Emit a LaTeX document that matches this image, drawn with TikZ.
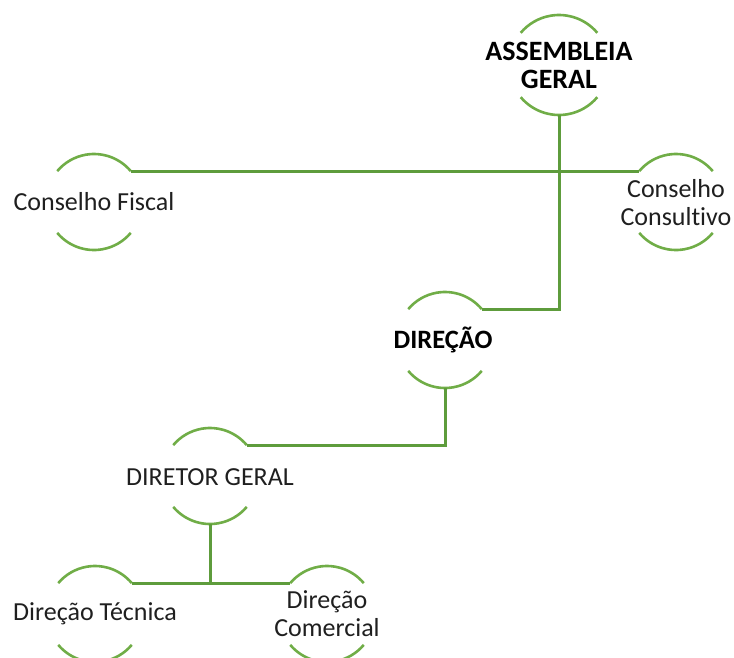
\documentclass[tikz,border=0pt]{standalone}
\usepackage{fontspec}
\setmainfont[Ligatures=NoCommon]{Carlito}
\definecolor{ringgreen}{HTML}{70AD47}
\definecolor{linkgreen}{HTML}{5E9C3C}
\tikzset{
  ring/.style={draw=ringgreen, line width=2.6pt},
  link/.style={draw=linkgreen, line width=3pt},
  lbl/.style={inner sep=0pt, align=center, font=\fontsize{26}{28}\selectfont, text=black!88},
  blbl/.style={inner sep=0pt, align=center, text=black},
}
\newcommand\ringarcs[2]{%
  \draw[ring] ([shift={(40:#2)}]#1) arc[start angle=40,end angle=140,radius=#2];
  \draw[ring] ([shift={(-140:#2)}]#1) arc[start angle=-140,end angle=-40,radius=#2];}
\begin{document}
\begin{tikzpicture}[x=1pt,y=-1pt]
\useasboundingbox (0,0) rectangle (734,657);
% ring centres
\coordinate (cag) at (559,65);
\coordinate (ccf) at (94,202);
\coordinate (ccc) at (676,202);
\coordinate (cdir) at (445,340);
\coordinate (cdg) at (210,476);
\coordinate (cdt) at (95,614);
\coordinate (cdc) at (327,614);
% arcs
\ringarcs{cag}{50pt}
\ringarcs{ccf}{48pt}
\ringarcs{ccc}{48pt}
\ringarcs{cdir}{48pt}
\ringarcs{cdg}{48pt}
\ringarcs{cdt}{48pt}
\ringarcs{cdc}{48pt}
% arc end points used by connectors
\coordinate (agb) at ([shift={(0,-50pt)}]cag);
\coordinate (cfr) at ([shift={(40:48pt)}]ccf);
\coordinate (ccl) at ([shift={(140:48pt)}]ccc);
\coordinate (dirr) at ([shift={(40:48pt)}]cdir);
\coordinate (dirb) at ([shift={(0,-48pt)}]cdir);
\coordinate (dgr) at ([shift={(40:48pt)}]cdg);
\coordinate (dgb) at ([shift={(0,-48pt)}]cdg);
\coordinate (dtr) at ([shift={(40:48pt)}]cdt);
\coordinate (dcl) at ([shift={(140:48pt)}]cdc);
% labels
\node[blbl, font=\fontsize{28}{28}\selectfont\bfseries] (ag) at (559,65) {ASSEMBLEIA\\GERAL};
\node[lbl] (cf) at (94,202) {Conselho Fiscal};
\node[lbl] (cc) at (676,203) {Conselho\\Consultivo};
\node[blbl, font=\fontsize{26.5}{28}\selectfont\bfseries] (dir) at (443,340) {DIREÇÃO};
\node[lbl] (dg) at (210,477) {DIRETOR GERAL};
\node[lbl] (dt) at (95,614) {Direção Técnica};
\node[lbl] (dc) at (327,614) {Direção\\Comercial};
% connectors
\draw[link] (cfr) -- (ccl);
\draw[link] (agb) |- (dirr);
\draw[link] (dirb) |- (dgr);
\draw[link] (dtr) -- (dcl);
\draw[link] (dgb) -- (dgb |- dtr);
\end{tikzpicture}
\end{document}
